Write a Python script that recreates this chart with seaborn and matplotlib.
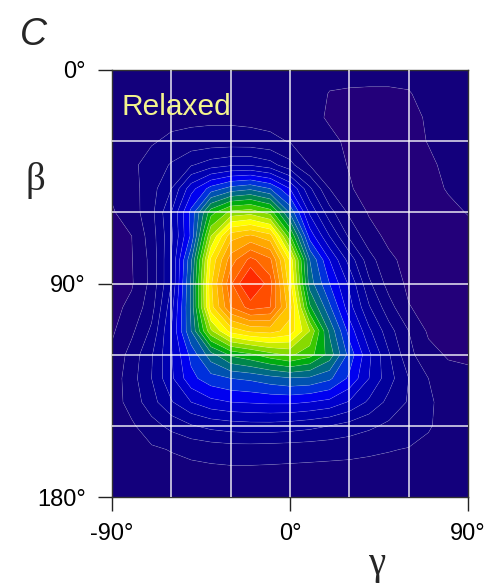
import numpy as np
import matplotlib
matplotlib.use("Agg")
import matplotlib.pyplot as plt
import seaborn as sns

# ---------------- data ----------------
gamma_deg = [-90, -80, -70, -60, -50, -40, -30, -20, -10, 0, 10, 20, 30, 40, 50, 60, 70, 80, 90]
beta_deg = [0, 10, 20, 30, 40, 50, 60, 70, 80, 90, 100, 110, 120, 130, 140, 150, 160, 170, 180]

# density (in contour-level units), one row per beta value, columns follow gamma_deg
density = [
    [1.40, 1.40, 1.40, 1.40, 1.40, 1.40, 1.40, 1.40, 1.40, 1.40, 1.35, 1.15, 1.12, 1.12, 1.12, 1.15, 1.30, 1.40, 1.40],
    [1.40, 1.45, 1.50, 1.55, 1.55, 1.58, 1.60, 1.58, 1.55, 1.45, 1.20, 0.98, 0.96, 0.95, 0.95, 0.97, 1.15, 1.30, 1.35],
    [1.40, 1.50, 1.60, 1.70, 1.75, 1.80, 1.80, 1.75, 1.70, 1.50, 1.20, 0.92, 0.85, 0.85, 0.85, 0.88, 1.05, 1.25, 1.35],
    [1.40, 1.60, 1.90, 2.20, 2.35, 2.40, 2.40, 2.35, 2.20, 1.95, 1.55, 1.15, 0.88, 0.80, 0.80, 0.85, 1.02, 1.25, 1.35],
    [1.35, 1.80, 2.40, 3.10, 3.90, 4.50, 4.85, 4.90, 4.40, 3.30, 1.95, 1.20, 0.97, 0.75, 0.75, 0.80, 0.92, 1.10, 1.25],
    [1.15, 1.60, 2.60, 4.00, 6.60, 8.40, 9.40, 9.80, 9.00, 7.00, 4.20, 2.00, 1.05, 0.80, 0.75, 0.75, 0.80, 1.05, 1.20],
    [0.90, 1.50, 2.70, 5.00, 8.30, 12.60, 14.30, 14.60, 13.60, 9.80, 5.80, 3.40, 1.80, 0.90, 0.70, 0.70, 0.72, 0.85, 1.03],
    [0.70, 1.00, 2.50, 4.80, 8.20, 15.00, 18.60, 19.20, 18.40, 13.20, 7.60, 5.00, 2.80, 1.40, 0.75, 0.65, 0.62, 0.70, 0.80],
    [0.65, 0.95, 2.30, 5.00, 9.80, 17.20, 20.50, 22.30, 21.20, 16.80, 10.00, 7.00, 4.60, 2.40, 1.20, 0.70, 0.62, 0.65, 0.72],
    [0.60, 0.90, 2.30, 5.00, 10.20, 17.80, 21.80, 24.50, 22.40, 17.40, 10.50, 8.00, 5.80, 3.20, 1.60, 0.80, 0.70, 0.70, 0.75],
    [0.70, 1.25, 2.60, 5.60, 10.20, 17.60, 21.00, 22.40, 22.00, 18.40, 12.20, 9.20, 6.40, 4.10, 2.40, 1.05, 0.70, 0.65, 0.70],
    [0.85, 1.80, 3.20, 6.00, 10.00, 14.80, 17.40, 18.20, 18.40, 17.60, 15.00, 10.80, 7.60, 5.20, 3.40, 2.00, 0.85, 0.70, 0.75],
    [1.20, 2.40, 3.90, 5.90, 8.30, 10.60, 12.20, 12.80, 13.60, 14.20, 13.40, 11.60, 8.60, 6.20, 4.10, 2.30, 1.30, 0.90, 0.85],
    [1.40, 2.60, 4.00, 5.80, 7.70, 8.60, 9.00, 9.20, 9.60, 9.90, 9.80, 9.20, 7.80, 6.00, 4.40, 3.00, 2.00, 1.35, 1.20],
    [1.50, 2.40, 3.60, 4.90, 6.00, 6.70, 7.00, 7.10, 7.20, 7.20, 7.00, 6.70, 5.90, 4.80, 3.70, 2.90, 2.20, 1.50, 1.30],
    [1.40, 1.85, 2.60, 3.30, 3.90, 4.30, 4.50, 4.60, 4.60, 4.50, 4.30, 4.00, 3.60, 3.20, 2.80, 2.50, 2.10, 1.60, 1.30],
    [1.35, 1.55, 1.85, 2.05, 2.25, 2.40, 2.50, 2.50, 2.45, 2.40, 2.35, 2.30, 2.25, 2.15, 2.05, 1.95, 1.75, 1.50, 1.30],
    [1.35, 1.45, 1.55, 1.62, 1.68, 1.72, 1.75, 1.75, 1.74, 1.72, 1.70, 1.68, 1.66, 1.64, 1.60, 1.55, 1.50, 1.40, 1.30],
    [1.35, 1.40, 1.45, 1.50, 1.52, 1.55, 1.55, 1.55, 1.55, 1.55, 1.54, 1.52, 1.50, 1.48, 1.46, 1.44, 1.40, 1.35, 1.30],
]

level_bounds = list(range(0, 24)) + [40]
band_colors = [
    "#23007a", "#13007c", "#0c0083", "#07008d", "#03009b", "#0000b0", "#0000cc", "#0000f0",
    "#0030dc", "#0052b0", "#006a84", "#00864c", "#00ac10", "#3cc800", "#88da00", "#c8ec00",
    "#ffff00", "#ffe400", "#ffc600", "#ffa800", "#ff8a00", "#ff6c00", "#ff4e00", "#ff2a00",
]

x_ticks = [-90, 0, 90]
x_tick_labels = ["-90°", "0°", "90°"]
y_ticks = [0, 90, 180]
y_tick_labels = ["0°", "90°", "180°"]
grid_x = [-60, -30, 0, 30, 60]
grid_y = [30, 60, 90, 120, 150]

# ---------------- style ----------------
sns.set_style("ticks")
plt.rcParams["font.family"] = ["Liberation Sans", "DejaVu Sans"]

fig = plt.figure(figsize=(4.87, 5.85), dpi=100)
ax = fig.add_axes([112 / 487, 88 / 585, 356 / 487, 427 / 585])

G, B = np.meshgrid(gamma_deg, beta_deg)
Z = np.array(density)

ax.contourf(G, B, Z, levels=level_bounds, colors=band_colors, antialiased=True)
ax.contour(G, B, Z, levels=list(range(1, 24)), colors="white", linewidths=0.45, alpha=0.22)

for g in grid_x:
    ax.axvline(g, color="white", lw=1.1, alpha=0.9, zorder=3)
for b in grid_y:
    ax.axhline(b, color="white", lw=1.1, alpha=0.9, zorder=3)

ax.set_xlim(-90, 90)
ax.set_ylim(180, 0)
ax.set_xticks(x_ticks)
ax.set_xticklabels(x_tick_labels)
ax.set_yticks(y_ticks)
ax.set_yticklabels(y_tick_labels)
ax.set_yticks(grid_y, minor=True)
ax.tick_params(axis="both", which="major", direction="out", length=10, width=1,
               labelsize=17, pad=9, color="#222222", labelcolor="black")
ax.tick_params(axis="y", which="minor", direction="in", length=4, width=1,
               left=True, right=True, color="#333333")
for s in ax.spines.values():
    s.set_color("#333333")
    s.set_linewidth(1.0)

fig.text(20 / 487, 1 - 45 / 585, "C", fontsize=27, style="italic", ha="left", va="baseline")
fig.text(121 / 487, 1 - 115 / 585, "Relaxed", fontsize=21.5, color="#f4f48c", ha="left", va="baseline")
fig.text(26 / 487, 1 - 190 / 585, "β", fontsize=28, family=["Liberation Serif", "DejaVu Serif"],
         ha="left", va="baseline")
fig.text(368 / 487, 1 - 574 / 585, "γ", fontsize=28, family=["Liberation Serif", "DejaVu Serif"],
         ha="left", va="baseline")

fig.savefig("out.png", dpi=100)
